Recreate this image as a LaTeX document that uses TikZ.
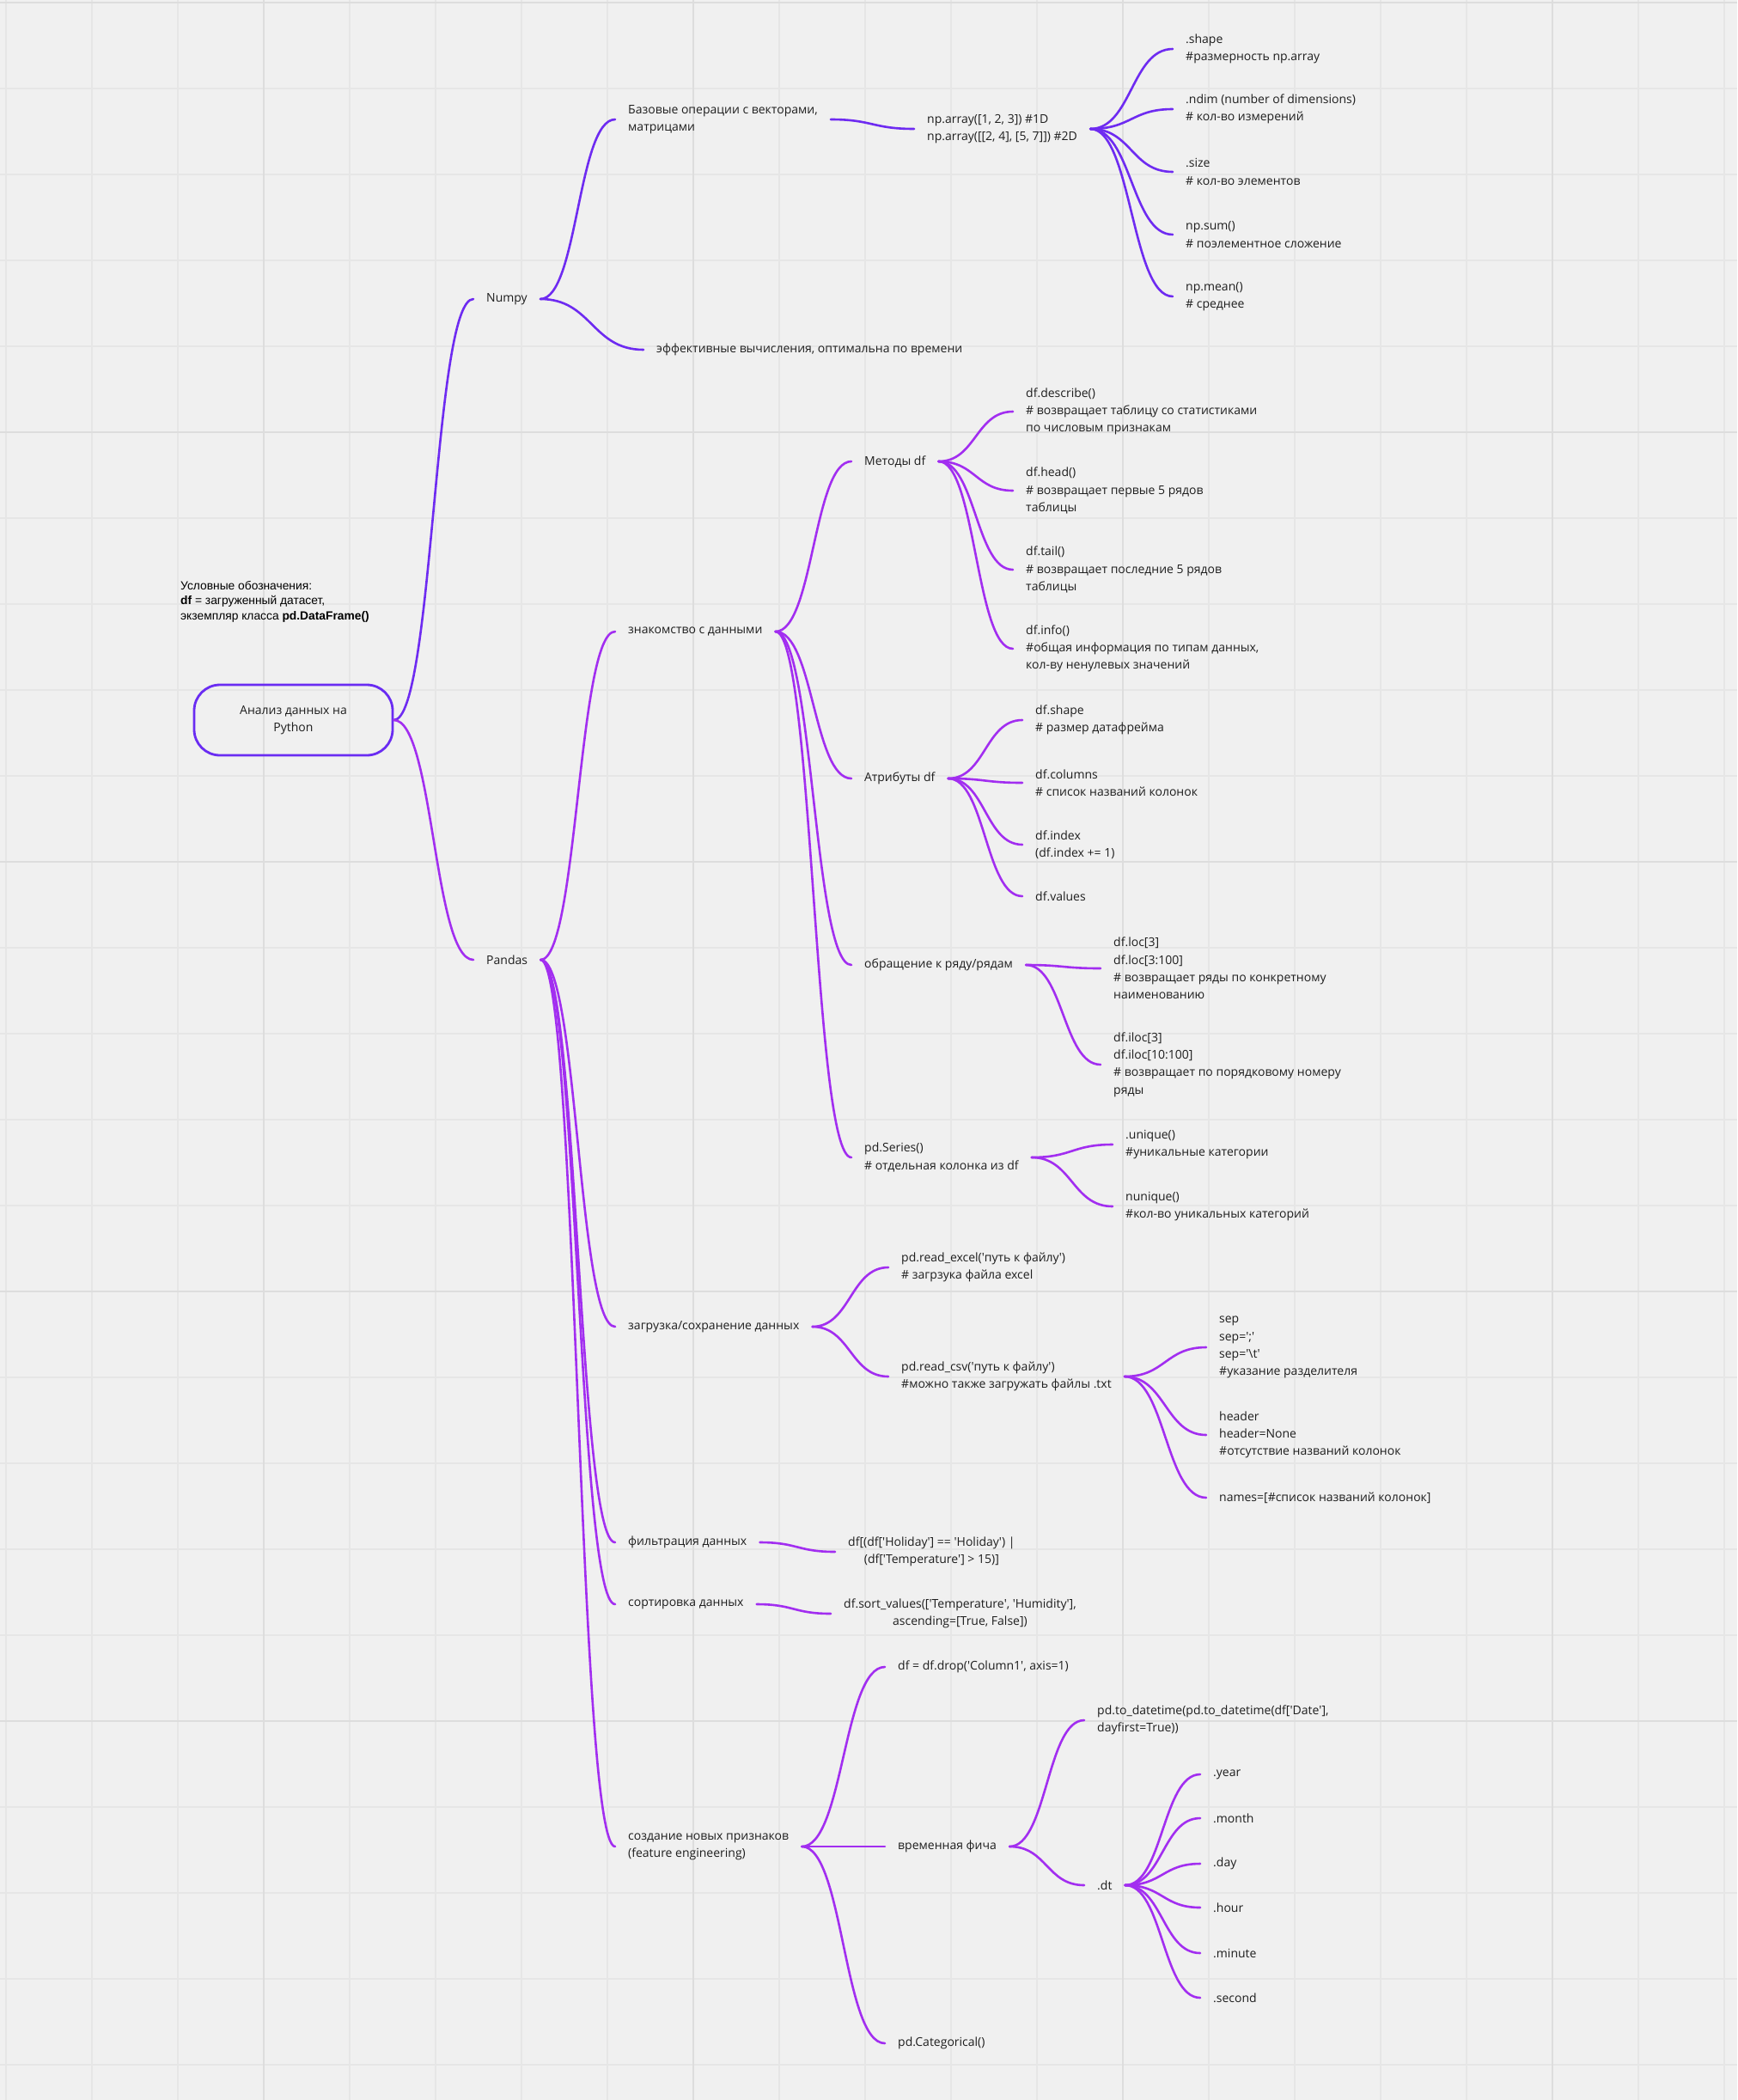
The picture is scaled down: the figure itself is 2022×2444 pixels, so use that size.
\documentclass[tikz,border=0pt]{standalone}
\usepackage{fontspec}
\setmainfont{Open Sans}
\newfontfamily\legendFont{Liberation Sans}
\usetikzlibrary{calc}
\definecolor{paper}{HTML}{F0F0F0}
\definecolor{gridLine}{HTML}{E6E6E6}
\definecolor{gridBold}{HTML}{DDDDDD}
\definecolor{ink}{HTML}{1E1E1E}
\definecolor{rootCol}{HTML}{6A2CF2}
\definecolor{numpyCol}{HTML}{6E2BF1}
\definecolor{pandasCol}{HTML}{A22EF0}
\newcommand{\sqt}{\textquotesingle}

\begin{document}
\begin{tikzpicture}[
    x=1pt, y=-1pt,
    rootBox/.style={rectangle, rounded corners=30pt, draw=rootCol, line width=2.8pt, minimum width=231pt, minimum height=82pt, inner sep=0pt, align=center, text=ink, font=\fontsize{14}{20.3}\selectfont},
    leafStyle/.style={anchor=west, align=left, inner xsep=15pt, inner ysep=2pt, yshift=-2pt, text=ink, font=\fontsize{14}{20.3}\selectfont},
    codeStyle/.style={leafStyle, align=center},
    legendStyle/.style={anchor=west, align=left, inner sep=0pt, text=black, font=\legendFont\fontsize{13.8}{17.5}\selectfont},
    linkStyle/.style={line width=2.6pt, line cap=round, to path={let \p1=(\tikztostart), \p2=(\tikztotarget) in .. controls ({(\x1+\x2)/2},\y1) and ({(\x1+\x2)/2},\y2) .. (\tikztotarget)}},
    numpyLink/.style={linkStyle, draw=numpyCol},
    pandasLink/.style={linkStyle, draw=pandasCol}
]
    \useasboundingbox (0,0) rectangle (2022,2444);
    \fill[paper] (0,0) rectangle (2022,2444);
    \foreach \gx in {7,107,...,2007} \draw[gridLine, line width=2pt] (\gx,0) -- (\gx,2444);
    \foreach \gy in {3,103,...,2403} \draw[gridLine, line width=2pt] (0,\gy) -- (2022,\gy);
    \foreach \gx in {307,807,...,1807} \draw[gridBold, line width=2.4pt] (\gx,0) -- (\gx,2444);
    \foreach \gy in {3,503,...,2003} \draw[gridBold, line width=2.4pt] (0,\gy) -- (2022,\gy);

    \node[rootBox] (root) at (341.5,838) {Анализ данных на\\Python};
    \node[legendStyle] (legend) at (210,700) {Условные обозначения:\\\textbf{df} = загруженный датасет,\\экземпляр класса \textbf{pd.DataFrame()}};

    % Numpy
    \node[leafStyle] (numpy) at (551,346) {Numpy};
    \node[leafStyle] (basic) at (716,137) {Базовые операции с векторами,\\матрицами};
    \node[leafStyle] (fast) at (749,405) {эффективные вычисления, оптимальна по времени};
    \node[leafStyle] (nparray) at (1064,148) {np.array([1, 2, 3]) \#1D\\np.array([[2, 4], [5, 7]]) \#2D};
    \node[leafStyle] (shape) at (1365,55) {.shape\\\#размерность np.array};
    \node[leafStyle] (ndim) at (1365,125) {.ndim (number of dimensions)\\\# кол-во измерений};
    \node[leafStyle] (size) at (1365,198) {.size\\\# кол-во элементов};
    \node[leafStyle] (npsum) at (1365,271) {np.sum()\\\# поэлементное сложение};
    \node[leafStyle] (npmean) at (1365,343) {np.mean()\\\# среднее};

    % Pandas
    \node[leafStyle] (pandas) at (551,1115) {Pandas};
    \node[leafStyle] (explore) at (716,733) {знакомство с данными};
    \node[leafStyle] (io) at (716,1542) {загрузка/сохранение данных};
    \node[leafStyle] (filter) at (716,1793) {фильтрация данных};
    \node[leafStyle] (sorting) at (716,1865) {сортировка данных};
    \node[leafStyle] (features) at (716,2147) {создание новых признаков\\(feature engineering)};

    \node[leafStyle] (methods) at (991,535) {Методы df};
    \node[leafStyle] (attrs) at (991,904) {Атрибуты df};
    \node[leafStyle] (rows) at (991,1121) {обращение к ряду/рядам};
    \node[leafStyle] (series) at (991,1345) {pd.Series()\\\# отдельная колонка из df};

    \node[leafStyle] (describe) at (1179,477) {df.describe()\\\# возвращает таблицу со статистиками\\по числовым признакам};
    \node[leafStyle] (head) at (1179,569) {df.head()\\\# возвращает первые 5 рядов\\таблицы};
    \node[leafStyle] (tail) at (1179,661) {df.tail()\\\# возвращает последние 5 рядов\\таблицы};
    \node[leafStyle] (info) at (1179,753) {df.info()\\\#общая информация по типам данных,\\кол-ву ненулевых значений};

    \node[leafStyle] (dfshape) at (1190,836) {df.shape\\\# размер датафрейма};
    \node[leafStyle] (columns) at (1190,909) {df.columns\\\# список названий колонок};
    \node[leafStyle] (index) at (1190,981) {df.index\\(df.index += 1)};
    \node[leafStyle] (values) at (1190,1041) {df.values};

    \node[leafStyle] (loc) at (1281,1125) {df.loc[3]\\df.loc[3:100]\\\# возвращает ряды по конкретному\\наименованию};
    \node[leafStyle] (iloc) at (1281,1237) {df.iloc[3]\\df.iloc[10:100]\\\# возвращает по порядковому номеру\\ряды};

    \node[leafStyle] (unique) at (1295,1330) {.unique()\\\#уникальные категории};
    \node[leafStyle] (nunique) at (1295,1402) {nunique()\\\#кол-во уникальных категорий};

    \node[leafStyle] (excel) at (1034,1473) {pd.read\_excel(\sqt путь к файлу\sqt)\\\# загрзука файла excel};
    \node[leafStyle] (csv) at (1034,1600) {pd.read\_csv(\sqt путь к файлу\sqt)\\\#можно также загружать файлы .txt};

    \node[leafStyle] (sep) at (1404,1566) {sep\\sep=\sqt;\sqt\\sep=\sqt\textbackslash t\sqt\\\#указание разделителя};
    \node[leafStyle] (header) at (1404,1668) {header\\header=None\\\#отсутствие названий колонок};
    \node[leafStyle] (names) at (1404,1741) {names=[\#список названий колонок]};

    \node[codeStyle] (filtercode) at (972,1804) {df[(df[\sqt Holiday\sqt] == \sqt Holiday\sqt) |\\(df[\sqt Temperature\sqt] > 15)]};
    \node[codeStyle] (sortcode) at (967,1876) {df.sort\_values([\sqt Temperature\sqt, \sqt Humidity\sqt],\\ascending=[True, False])};

    \node[leafStyle] (drop) at (1030,1938) {df = df.drop(\sqt Column1\sqt, axis=1)};
    \node[leafStyle] (timefeat) at (1030,2147) {временная фича};
    \node[leafStyle] (categ) at (1030,2376) {pd.Categorical()};

    \node[leafStyle] (todt) at (1262,2000) {pd.to\_datetime(pd.to\_datetime(df[\sqt Date\sqt],\\dayfirst=True))};
    \node[leafStyle] (dt) at (1262,2192) {.dt};

    \node[leafStyle] (year) at (1397,2063) {.year};
    \node[leafStyle] (month) at (1397,2114) {.month};
    \node[leafStyle] (day) at (1397,2167) {.day};
    \node[leafStyle] (hour) at (1397,2218) {.hour};
    \node[leafStyle] (minute) at (1397,2271) {.minute};
    \node[leafStyle] (second) at (1397,2323) {.second};

    % connectors
    \draw[numpyLink] (root.east) to (numpy.west);
    \foreach \kid in {basic,fast} \draw[numpyLink] (numpy.east) to (\kid.west);
    \draw[numpyLink] (basic.east) to (nparray.west);
    \foreach \kid in {shape,ndim,size,npsum,npmean} \draw[numpyLink] (nparray.east) to (\kid.west);

    \draw[pandasLink] (root.east) to (pandas.west);
    \foreach \kid in {explore,io,filter,sorting,features} \draw[pandasLink] (pandas.east) to (\kid.west);
    \foreach \kid in {methods,attrs,rows,series} \draw[pandasLink] (explore.east) to (\kid.west);
    \foreach \kid in {describe,head,tail,info} \draw[pandasLink] (methods.east) to (\kid.west);
    \foreach \kid in {dfshape,columns,index,values} \draw[pandasLink] (attrs.east) to (\kid.west);
    \foreach \kid in {loc,iloc} \draw[pandasLink] (rows.east) to (\kid.west);
    \foreach \kid in {unique,nunique} \draw[pandasLink] (series.east) to (\kid.west);
    \foreach \kid in {excel,csv} \draw[pandasLink] (io.east) to (\kid.west);
    \foreach \kid in {sep,header,names} \draw[pandasLink] (csv.east) to (\kid.west);
    \draw[pandasLink] (filter.east) to (filtercode.west);
    \draw[pandasLink] (sorting.east) to (sortcode.west);
    \foreach \kid in {drop,timefeat,categ} \draw[pandasLink] (features.east) to (\kid.west);
    \foreach \kid in {todt,dt} \draw[pandasLink] (timefeat.east) to (\kid.west);
    \foreach \kid in {year,month,day,hour,minute,second} \draw[pandasLink] (dt.east) to (\kid.west);
\end{tikzpicture}
\end{document}
